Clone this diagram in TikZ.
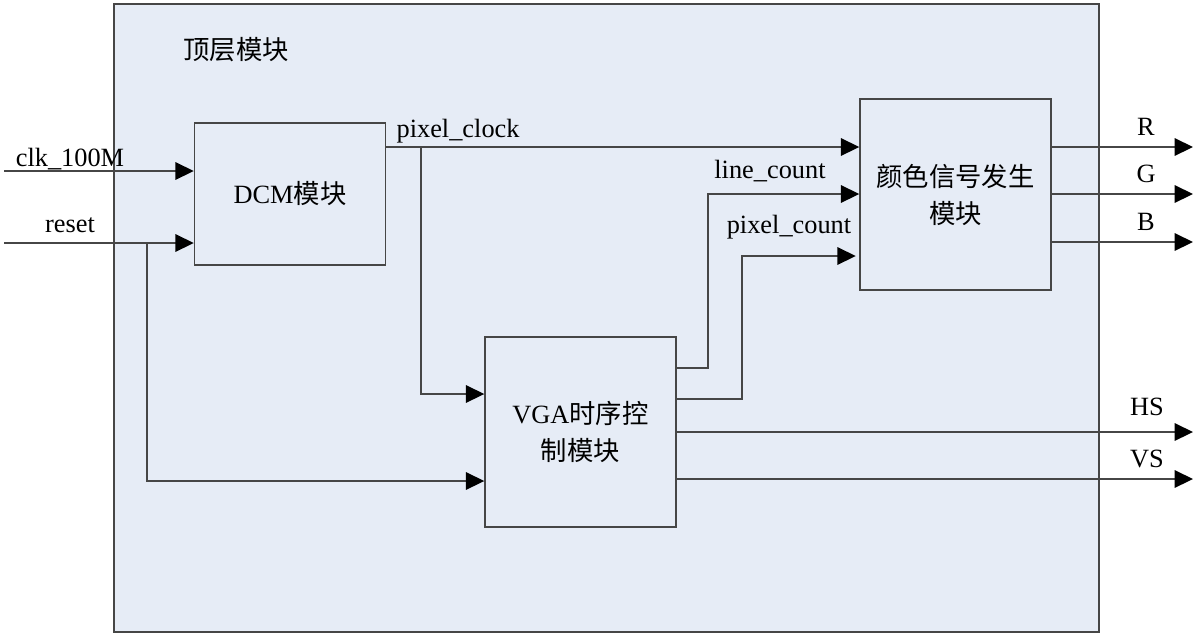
\documentclass[tikz,border=0pt]{standalone}
\usepackage{fontspec}
\setmainfont{Liberation Serif}
\newfontfamily\cjk{Noto Sans CJK SC}
\usetikzlibrary{arrows.meta}
\definecolor{bgblue}{RGB}{230,236,246}
\definecolor{linegray}{RGB}{70,70,70}

\begin{document}
\begin{tikzpicture}[x=0.02cm,y=-0.02cm,line width=0.85pt,
  every node/.style={font=\fontsize{15}{21}\selectfont},
  module/.style={draw=linegray,fill=bgblue,inner sep=0pt,minimum width=3.82cm,align=center},
  sig/.style={draw=linegray,-{Triangle[length=10.5pt,width=10pt,black]}}]
  \useasboundingbox (0,0) rectangle (1199,637);

  \node[draw=linegray,fill=bgblue,inner sep=0pt,minimum width=19.7cm,minimum height=12.56cm] (top) at (606.5,318) {};
  \node (title) at (236,50) {\cjk 顶层模块};

  \node[module,minimum height=2.84cm]	(dcm)   at (290,194)     {DCM{\cjk 模块}};
  \node[module,minimum height=3.8cm]	(vga)   at (580.5,432)   {VGA{\cjk 时序控}\\{\cjk 制模块}};
  \node[module,minimum height=3.82cm]	(color) at (955.5,194.5) {{\cjk 颜色信号发生}\\{\cjk 模块}};

  \coordinate (clkin)  at (4,171);
  \coordinate (rstin)  at (4,243);
  \coordinate (rstbr)  at (147,243);
  \coordinate (pclk)   at (385.5,147);
  \coordinate (pclkbr) at (421,147);
  \coordinate (lcx)    at (708,194);
  \coordinate (pcx)    at (742,256);
  \coordinate (rout)   at (1193,147);
  \coordinate (gout)   at (1193,194);
  \coordinate (bout)   at (1193,242);
  \coordinate (hsout)  at (1193,432);
  \coordinate (vsout)  at (1193,479);

  \path[sig] (clkin) -- (clkin -| dcm.west);
  \path[sig] (rstin) -- (rstin -| dcm.west);
  \path[sig] (rstbr) |- (vga.west |- 0,481);
  \path[sig] (pclk) -- (pclk -| color.west);
  \path[sig] (pclkbr) |- (vga.west |- 0,394);
  \path[sig] (vga.east |- 0,368) -| (lcx) -- (lcx -| color.west);
  \path[sig] (vga.east |- 0,399) -| (pcx) -- ([xshift=-2pt]pcx -| color.west);
  \path[sig] (color.east |- rout) -- (rout);
  \path[sig] (color.east |- gout) -- (gout);
  \path[sig] (color.east |- bout) -- (bout);
  \path[sig] (vga.east |- hsout) -- (hsout);
  \path[sig] (vga.east |- vsout) -- (vsout);

  \node[anchor=base]      (clklbl) at (70,166)   {clk\_100M};
  \node[anchor=base]      (rstlbl) at (70,232)   {reset};
  \node[anchor=base west] (pclbl)  at (390,137)  {pixel\_clock};
  \node[anchor=base]      (lclbl)  at (770,178)  {line\_count};
  \node[anchor=base]      (pxlbl)  at (789,233)  {pixel\_count};
  \node[anchor=base]      (rlbl)   at (1146,135) {R};
  \node[anchor=base]      (glbl)   at (1146,182) {G};
  \node[anchor=base]      (blbl)   at (1146,230) {B};
  \node[anchor=base]      (hslbl)  at (1147,415) {HS};
  \node[anchor=base]      (vslbl)  at (1147,467) {VS};
\end{tikzpicture}
\end{document}
